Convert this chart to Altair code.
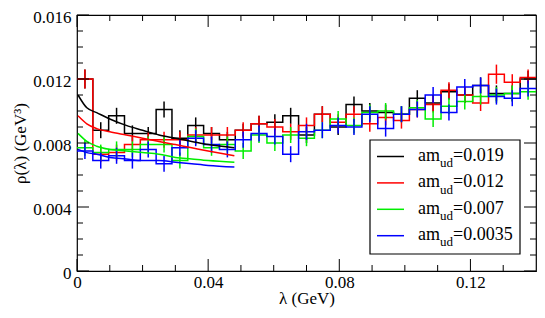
import altair as alt
import pandas as pd

# ---------------- data ----------------
labels = ["0.019", "0.012", "0.007", "0.0035"]
colors = ["#000000", "#ff0000", "#00ee00", "#0000ff"]

n_bins = 29
x_max = 0.14

rho = {
    "0.019": [0.0120, 0.0088, 0.0097, 0.0086, 0.0086, 0.0101, 0.0083, 0.0091, 0.0086, 0.0082,
              0.0088, 0.0092, 0.0093, 0.0097, 0.0085, 0.0098, 0.0090, 0.0104, 0.0100, 0.0099,
              0.0098, 0.0108, 0.0105, 0.0112, 0.0110, 0.0116, 0.0111, 0.0111, 0.0120],
    "0.012": [0.0120, 0.0073, 0.0074, 0.0079, 0.0082, 0.0082, 0.0082, 0.0085, 0.0085, 0.0085,
              0.0088, 0.0092, 0.0090, 0.0087, 0.0091, 0.0098, 0.0093, 0.0098, 0.0092, 0.0096,
              0.0094, 0.0101, 0.0104, 0.0113, 0.0110, 0.0105, 0.0123, 0.0118, 0.0121],
    "0.007": [0.0077, 0.0074, 0.0076, 0.0076, 0.0079, 0.0079, 0.0069, 0.0084, 0.0077, 0.0079,
              0.0075, 0.0085, 0.0080, 0.0085, 0.0083, 0.0088, 0.0095, 0.0091, 0.0099, 0.0100,
              0.0098, 0.0102, 0.0095, 0.0103, 0.0106, 0.0109, 0.0110, 0.0111, 0.0112],
    "0.0035": [0.0075, 0.0069, 0.0072, 0.0069, 0.0076, 0.0067, 0.0077, 0.0083, 0.0079, 0.0076,
               0.0082, 0.0086, 0.0084, 0.0073, 0.0087, 0.0088, 0.0091, 0.0090, 0.0098, 0.0089,
               0.0098, 0.0101, 0.0110, 0.0099, 0.0115, 0.0116, 0.0109, 0.0108, 0.0114],
}
err = {
    "0.019": [0.0006, 0.0005, 0.0005, 0.0005, 0.0004, 0.0005, 0.0005, 0.0005, 0.0004, 0.0005,
              0.0004, 0.0005, 0.0005, 0.0005, 0.0005, 0.0005, 0.0005, 0.0005, 0.0005, 0.0005,
              0.0005, 0.0005, 0.0005, 0.0005, 0.0005, 0.0005, 0.0005, 0.0005, 0.0005],
    "0.012": [0.0006, 0.0005, 0.0005, 0.0005, 0.0005, 0.0005, 0.0005, 0.0005, 0.0005, 0.0005,
              0.0005, 0.0005, 0.0005, 0.0005, 0.0005, 0.0005, 0.0005, 0.0005, 0.0005, 0.0005,
              0.0005, 0.0005, 0.0005, 0.0005, 0.0005, 0.0005, 0.0006, 0.0005, 0.0005],
    "0.007": [0.0005, 0.0005, 0.0005, 0.0005, 0.0005, 0.0005, 0.0005, 0.0005, 0.0005, 0.0005,
              0.0005, 0.0005, 0.0005, 0.0005, 0.0005, 0.0005, 0.0005, 0.0005, 0.0005, 0.0005,
              0.0005, 0.0005, 0.0005, 0.0005, 0.0005, 0.0005, 0.0005, 0.0005, 0.0005],
    "0.0035": [0.0005, 0.0005, 0.0005, 0.0005, 0.0005, 0.0005, 0.0005, 0.0005, 0.0005, 0.0005,
               0.0005, 0.0005, 0.0005, 0.0005, 0.0005, 0.0005, 0.0005, 0.0005, 0.0005, 0.0005,
               0.0005, 0.0005, 0.0005, 0.0005, 0.0005, 0.0005, 0.0005, 0.0005, 0.0005],
}

fit_x = [0.0003, 0.003, 0.006, 0.01, 0.015, 0.02, 0.025, 0.03, 0.035, 0.04, 0.048]
fit = {
    "0.019": [0.0110, 0.0102, 0.0099, 0.0095, 0.0091, 0.0088, 0.0085, 0.0083, 0.0081, 0.0079, 0.0077],
    "0.012": [0.0097, 0.0092, 0.0089, 0.0087, 0.0085, 0.0083, 0.0081, 0.0079, 0.0077, 0.0075, 0.0072],
    "0.007": [0.0086, 0.0081, 0.0078, 0.0076, 0.0075, 0.0074, 0.0073, 0.0071, 0.0070, 0.0069, 0.0068],
    "0.0035": [0.0076, 0.0074, 0.0073, 0.0071, 0.0070, 0.0069, 0.0069, 0.0068, 0.0067, 0.0066, 0.0065],
}

x_major = [0, 0.04, 0.08, 0.12]
x_minor = [0.01, 0.02, 0.03, 0.05, 0.06, 0.07, 0.09, 0.10, 0.11, 0.13]
y_major = [0, 0.004, 0.008, 0.012, 0.016]
y_minor = [0.001, 0.002, 0.003, 0.005, 0.006, 0.007, 0.009, 0.010, 0.011, 0.013, 0.014, 0.015]

# ---------------- chart ----------------
W, H = 459, 256
FONT = "Liberation Serif"
bin_w = x_max / n_bins

x_scale = alt.Scale(domain=[0, x_max], nice=False, zero=False)
y_scale = alt.Scale(domain=[0, 0.016], nice=False, zero=False)

x_axis = alt.Axis(values=x_major, title="λ (GeV)", ticks=False, domain=False, grid=False,
                  labelFlush=False, labelPadding=3, titlePadding=0,
                  labelExpr="datum.value == 0 ? '0' : format(datum.value, '.2~f')")
y_axis = alt.Axis(values=y_major, title="ρ(λ) (GeV³)", ticks=False, domain=False, grid=False,
                  labelFlush=False, labelPadding=6, labelOffset=2, titlePadding=3,
                  labelExpr="datum.value == 0 ? '0' : format(datum.value, '.3~f')")


def X(field):
    return alt.X(field, scale=x_scale, axis=x_axis)


def Y(field):
    return alt.Y(field, scale=y_scale, axis=y_axis)


layers = []
for lab, col in zip(labels, colors):
    vals = rho[lab]
    steps = pd.DataFrame({
        "x": [k * bin_w for k in range(n_bins + 1)],
        "y": vals + [vals[-1]],
    })
    layers.append(
        alt.Chart(steps).mark_line(interpolate="step-after", color=col, strokeWidth=1.5)
        .encode(x=X("x:Q"), y=Y("y:Q"))
    )

for lab, col in zip(labels, colors):
    vals = rho[lab]
    e = err[lab]
    bars = pd.DataFrame({
        "x": [(k + 0.5) * bin_w for k in range(n_bins)],
        "lo": [v - d for v, d in zip(vals, e)],
        "hi": [v + d for v, d in zip(vals, e)],
    })
    layers.append(
        alt.Chart(bars).mark_rule(color=col, strokeWidth=1.5)
        .encode(x=X("x:Q"), y=Y("lo:Q"), y2="hi:Q")
    )

for lab, col in zip(labels, colors):
    curve = pd.DataFrame({"x": fit_x, "y": fit[lab]})
    layers.append(
        alt.Chart(curve).mark_line(interpolate="monotone", color=col, strokeWidth=1.5)
        .encode(x=X("x:Q"), y=Y("y:Q"))
    )


# inward ticks on all four sides
def xticks(vals, y0, y1):
    return (alt.Chart(pd.DataFrame({"t": vals})).mark_rule(color="black", strokeWidth=1)
            .encode(x=X("t:Q"), y=alt.value(y0), y2=alt.value(y1)))


def yticks(vals, x0, x1):
    return (alt.Chart(pd.DataFrame({"t": vals})).mark_rule(color="black", strokeWidth=1)
            .encode(y=Y("t:Q"), x=alt.value(x0), x2=alt.value(x1)))


layers += [
    xticks(x_major, H, H - 12), xticks(x_minor, H, H - 6),
    xticks(x_major, 0, 12), xticks(x_minor, 0, 6),
    yticks(y_major, 0, 12), yticks(y_minor, 0, 6),
    yticks(y_major, W, W - 12), yticks(y_minor, W, W - 6),
]

# legend box
one = pd.DataFrame({"a": [0]})
layers.append(
    alt.Chart(one).mark_rect(fill="white", stroke="black", strokeWidth=1.2)
    .encode(x=alt.value(293), x2=alt.value(443), y=alt.value(125), y2=alt.value(239))
)
for i, (lab, col) in enumerate(zip(labels, colors)):
    base_y = 145.7 + i * 26.4
    line_y = 141.5 + i * 26.4
    layers.append(
        alt.Chart(one).mark_rule(color=col, strokeWidth=1.5)
        .encode(x=alt.value(300), x2=alt.value(327), y=alt.value(line_y))
    )
    layers.append(
        alt.Chart(one).mark_text(text="am", font=FONT, fontSize=18, align="left",
                                 baseline="alphabetic", color="black")
        .encode(x=alt.value(341), y=alt.value(base_y))
    )
    layers.append(
        alt.Chart(one).mark_text(text="ud", font=FONT, fontSize=13, align="left",
                                 baseline="alphabetic", color="black")
        .encode(x=alt.value(363), y=alt.value(base_y + 6.5))
    )
    layers.append(
        alt.Chart(one).mark_text(text="=" + lab, font=FONT, fontSize=18, align="left",
                                 baseline="alphabetic", color="black")
        .encode(x=alt.value(376), y=alt.value(base_y))
    )

chart = (
    alt.layer(*layers)
    .properties(width=W, height=H, background="white",
                padding={"left": 69, "top": 7, "right": 1, "bottom": 39},
                autosize=alt.AutoSizeParams(type="none"))
    .configure_view(stroke="black", strokeWidth=1.2)
    .configure_axis(labelFont=FONT, labelFontSize=17, labelColor="black",
                    titleFont=FONT, titleFontSize=17, titleFontWeight="normal",
                    titleColor="black")
)

chart.save("out.html", embed_options={"renderer": "svg", "actions": False})
